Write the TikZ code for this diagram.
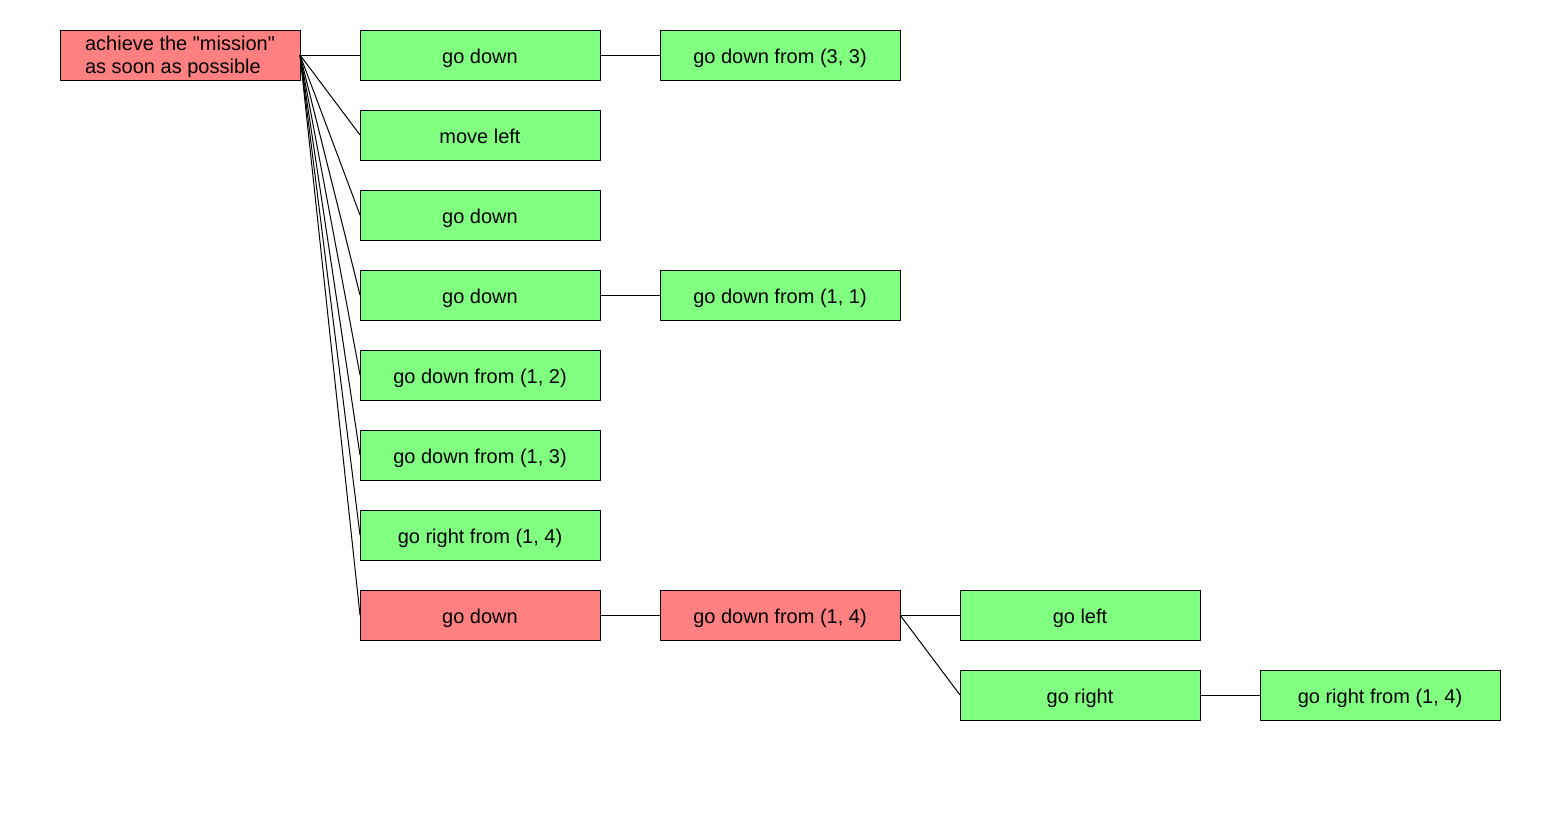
\documentclass[tikz,border=0pt]{standalone}
\usepackage{fontspec}
\setmainfont{Liberation Sans}[Ligatures=TeXOff]
\definecolor{goalred}{HTML}{FF8080}
\definecolor{goalgreen}{HTML}{80FF80}
\begin{document}
\begin{tikzpicture}[x=1pt,y=-1pt,
  box/.style={draw=black,line width=1pt,minimum width=240pt,minimum height=50pt,
    inner sep=0pt,outer sep=0pt,font=\fontsize{20}{23}\selectfont,text=black,
    text height=16pt,text depth=0pt},
  okbox/.style={box,fill=goalgreen},
  badbox/.style={box,fill=goalred},
  link/.style={draw=black,line width=1pt}]
\useasboundingbox (0,0) rectangle (1560,830);
% root goal: box plus its two-line caption
\node[badbox] (root) at (180,55) {};
\node[align=left,inner sep=0pt,font=\fontsize{20}{23}\selectfont] (rootcap) at (180,57)
  {achieve the "mission"\\as soon as possible};
% first level
\node[okbox] (a1) at (480,55) {go down};
\node[okbox] (a2) at (480,135) {move left};
\node[okbox] (a3) at (480,215) {go down};
\node[okbox] (a4) at (480,295) {go down};
\node[okbox] (a5) at (480,375) {go down from (1, 2)};
\node[okbox] (a6) at (480,455) {go down from (1, 3)};
\node[okbox] (a7) at (480,535) {go right from (1, 4)};
\node[badbox] (a8) at (480,615) {go down};
% second level
\node[okbox] (b1) at (780,55) {go down from (3, 3)};
\node[okbox] (b4) at (780,295) {go down from (1, 1)};
\node[badbox] (b8) at (780,615) {go down from (1, 4)};
% third and fourth level
\node[okbox] (c1) at (1080,615) {go left};
\node[okbox] (c2) at (1080,695) {go right};
\node[okbox] (d2) at (1380,695) {go right from (1, 4)};
% connectors
\foreach \n in {a1,a2,a3,a4,a5,a6,a7,a8}
  \draw[link] (root.east) -- (\n.west);
\draw[link] (a1.east) -- (b1.west);
\draw[link] (a4.east) -- (b4.west);
\draw[link] (a8.east) -- (b8.west);
\draw[link] (b8.east) -- (c1.west);
\draw[link] (b8.east) -- (c2.west);
\draw[link] (c2.east) -- (d2.west);
\end{tikzpicture}
\end{document}
